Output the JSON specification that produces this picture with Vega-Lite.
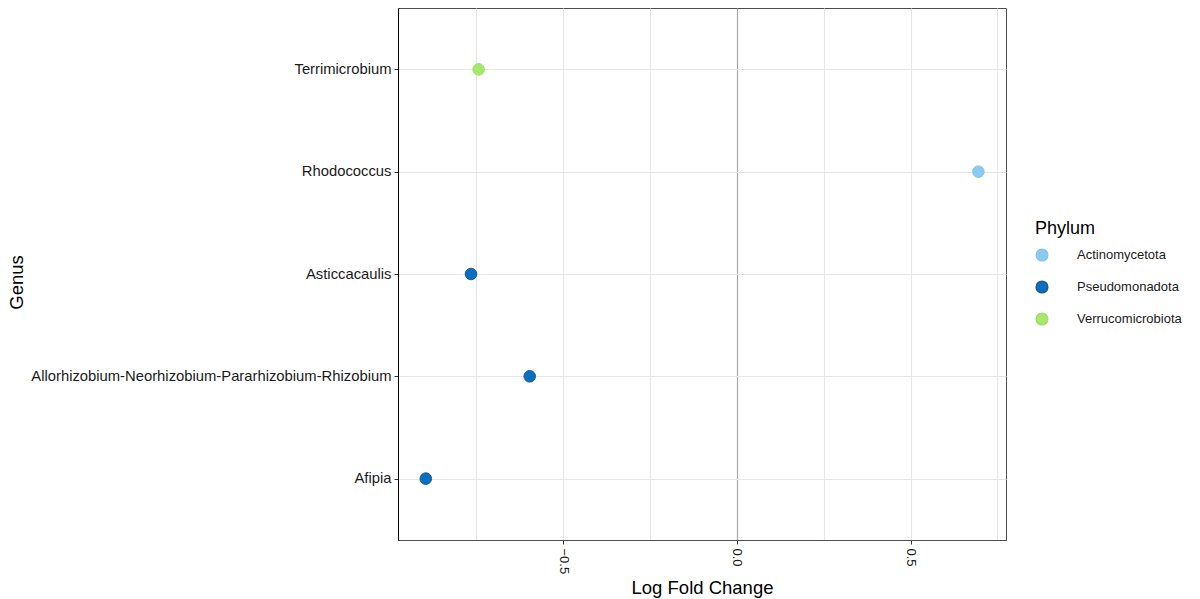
{
  "$schema": "https://vega.github.io/schema/vega-lite/v6.json",
  "autosize": {"type": "none"},
  "padding": {"left": 398, "top": 8, "right": 194, "bottom": 59},
  "width": 608,
  "height": 532,
  "background": "white",
  "config": {
    "font": "Liberation Sans",
    "view": {"stroke": "#4d4d4d", "strokeWidth": 1}
  },
  "data": {
    "values": [
      {"Genus": "Terrimicrobium", "LFC": -0.743, "Phylum": "Verrucomicrobiota"},
      {"Genus": "Rhodococcus", "LFC": 0.695, "Phylum": "Actinomycetota"},
      {"Genus": "Asticcacaulis", "LFC": -0.765, "Phylum": "Pseudomonadota"},
      {"Genus": "Allorhizobium-Neorhizobium-Pararhizobium-Rhizobium", "LFC": -0.596, "Phylum": "Pseudomonadota"},
      {"Genus": "Afipia", "LFC": -0.895, "Phylum": "Pseudomonadota"}
    ]
  },
  "mark": {"type": "point", "filled": true, "size": 135, "opacity": 1, "strokeWidth": 1},
  "encoding": {
    "x": {
      "field": "LFC",
      "type": "quantitative",
      "title": "Log Fold Change",
      "scale": {"domain": [-0.975, 0.7745], "nice": false, "zero": false},
      "axis": {
        "values": [-0.75, -0.5, -0.25, 0, 0.25, 0.5, 0.75],
        "labelExpr": "datum.value === -0.5 || datum.value === 0 || datum.value === 0.5 ? format(datum.value, '.1f') : ''",
        "labelAngle": 90,
        "labelAlign": "left",
        "labelBaseline": "middle",
        "labelFontSize": 13,
        "labelColor": "#1a1a1a",
        "labelPadding": 4,
        "tickSize": 4,
        "tickColor": "#333333",
        "tickOpacity": {"condition": {"test": "datum.value === -0.5 || datum.value === 0 || datum.value === 0.5", "value": 1}, "value": 0},
        "domainColor": "#4d4d4d",
        "grid": true,
        "gridColor": {"condition": {"test": "datum.value === 0", "value": "#a8a8a8"}, "value": "#e6e6e6"},
        "gridWidth": {"condition": {"test": "datum.value === 0", "value": 1.2}, "value": 1.1},
        "titleFontSize": 18.5,
        "titleFontWeight": "normal",
        "titleColor": "#000000",
        "titlePadding": 5,
        "labelFlush": false,
        "labelOverlap": false
      }
    },
    "y": {
      "field": "Genus",
      "type": "nominal",
      "title": "Genus",
      "sort": ["Terrimicrobium", "Rhodococcus", "Asticcacaulis", "Allorhizobium-Neorhizobium-Pararhizobium-Rhizobium", "Afipia"],
      "scale": {"type": "point", "padding": 0.6},
      "axis": {
        "labelFontSize": 14.8,
        "labelLimit": 0,
        "labelColor": "#1a1a1a",
        "labelPadding": 3,
        "tickSize": 4,
        "tickColor": "#333333",
        "domainColor": "#000000",
        "grid": true,
        "gridColor": "#e6e6e6",
        "gridWidth": 1.1,
        "titleFontSize": 18.5,
        "titleFontWeight": "normal",
        "titleColor": "#000000",
        "titleX": -372,
        "titleY": 274,
        "titleAnchor": "middle"
      }
    },
    "fill": {
      "field": "Phylum",
      "type": "nominal",
      "scale": {
        "domain": ["Actinomycetota", "Pseudomonadota", "Verrucomicrobiota"],
        "range": ["#8ccbf1", "#0a6fbf", "#a6e86c"]
      },
      "legend": {
        "orient": "none",
        "legendX": 637,
        "legendY": 212,
        "title": "Phylum",
        "titleFontSize": 18,
        "titleFontWeight": "normal",
        "titleColor": "#000000",
        "titlePadding": 10,
        "labelFontSize": 13,
        "labelColor": "#1a1a1a",
        "labelOffset": 28,
        "symbolSize": 135,
        "symbolType": "circle",
        "rowPadding": 14
      }
    },
    "stroke": {
      "field": "Phylum",
      "type": "nominal",
      "scale": {
        "domain": ["Actinomycetota", "Pseudomonadota", "Verrucomicrobiota"],
        "range": ["#86c5ec", "#1d5a9a", "#9fe064"]
      }
    }
  }
}
